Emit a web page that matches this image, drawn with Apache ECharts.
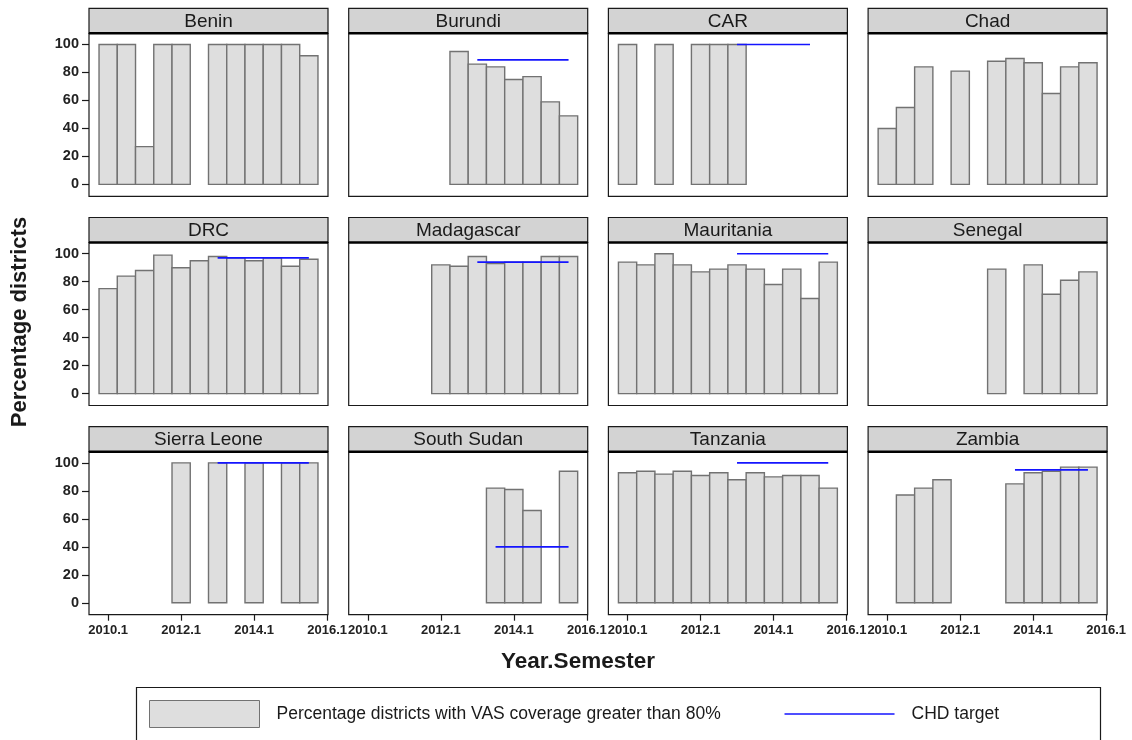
<!DOCTYPE html>
<html>
<head>
<meta charset="utf-8">
<script src="https://cdn.jsdelivr.net/npm/echarts@6/dist/echarts.min.js"></script>
<style>
  html, body { margin: 0; padding: 0; background: #fff; }
  #chart { width: 1132px; height: 740px; }
</style>
</head>
<body>
<div id="chart"></div>
<script>
// Semesters on the x axis and the labelled ticks
const semesters = ['2010.1','2010.2','2011.1','2011.2','2012.1','2012.2','2013.1','2013.2','2014.1','2014.2','2015.1','2015.2'];
const xTickLabels = ['2010.1','2012.1','2014.1','2016.1'];
const yTickValues = [0, 20, 40, 60, 80, 100];
const countries = ['Benin','Burundi','CAR','Chad','DRC','Madagascar','Mauritania','Senegal','Sierra Leone','South Sudan','Tanzania','Zambia'];

// Percentage of districts with VAS coverage > 80%, one value per semester (null = no data)
const benin       = [100, 100, 27, 100, 100, null, 100, 100, 100, 100, 100, 92];
const burundi     = [null, null, null, null, null, 95, 86, 84, 75, 77, 59, 49];
const car         = [100, null, 100, null, 100, 100, 100, null, null, null, null, null];
const chad        = [40, 55, 84, null, 81, null, 88, 90, 87, 65, 84, 87];
const drc         = [75, 84, 88, 99, 90, 95, 98, 97, 95, 97, 91, 96];
const madagascar  = [null, null, null, null, 92, 91, 98, 93, 94, 94, 98, 98];
const mauritania  = [94, 92, 100, 92, 87, 89, 92, 89, 78, 89, 68, 94];
const senegal     = [null, null, null, null, null, null, 89, null, 92, 71, 81, 87];
const sierraLeone = [null, null, null, null, 100, null, 100, null, 100, null, 100, 100];
const southSudan  = [null, null, null, null, null, null, null, 82, 81, 66, null, 94];
const tanzania    = [93, 94, 92, 94, 91, 93, 88, 93, 90, 91, 91, 82];
const zambia      = [null, 77, 82, 88, null, null, null, 85, 93, 94, 97, 97];

// CHD target per country: value and the first/last semester it covers
const targetValue = [null, 89, 100, null, 97, 94, 100, null, 100, 40, 100, 95];
const targetFrom  = [null, '2013.1', '2013.1', null, '2013.1', '2013.1', '2013.1', null, '2013.1', '2013.2', '2013.1', '2013.2'];
const targetTo    = [null, '2015.2', '2015.1', null, '2015.2', '2015.2', '2015.2', null, '2015.2', '2015.2', '2015.2', '2015.2'];

const coverage = [benin, burundi, car, chad, drc, madagascar, mauritania, senegal, sierraLeone, southSudan, tanzania, zambia];

const BAR_NAME = 'Percentage districts with VAS coverage greater than 80%';
const TARGET_NAME = 'CHD target';
const FONT = "'Liberation Sans', Arial, sans-serif";
const BLUE = '#1414ff';

// "2012.1" -> semester index counted from 2010.1
function semIndex(label) {
  const [y, s] = label.split('.').map(Number);
  return (y - 2010) * 2 + (s - 1);
}
const xTickPos = xTickLabels.map(semIndex);

// Facet layout
const L = { left: 89, top: 8.3, colPitch: 259.7, rowPitch: 209.2, width: 239, stripH: 25, plotH: 163 };

const chart = echarts.init(document.getElementById('chart'), null, { renderer: 'canvas' });

const grids = [], xAxes = [], yAxes = [], series = [], graphics = [];

countries.forEach((name, i) => {
  const r = Math.floor(i / 4), c = i % 4;
  const left = L.left + c * L.colPitch;
  const stripTop = L.top + r * L.rowPitch;
  const top = stripTop + L.stripH;
  const bottomRow = r === 2, firstCol = c === 0;

  grids.push({ left, top, width: L.width, height: L.plotH, show: true,
    borderColor: '#1a1a1a', borderWidth: 1.2, backgroundColor: '#fff' });

  xAxes.push({
    type: 'value', gridIndex: i, min: -1.05, max: 12.05, position: 'bottom',
    axisLine: { show: false, onZero: false },
    splitLine: { show: false },
    axisTick: { show: bottomRow, length: 6, lineStyle: { color: '#1a1a1a', width: 1.2 },
      customValues: xTickPos },
    axisLabel: { show: bottomRow, customValues: xTickPos,
      formatter: v => xTickLabels[xTickPos.indexOf(v)] || '',
      fontFamily: FONT, fontSize: 13, fontWeight: 'bold', color: '#222', margin: 9 }
  });

  yAxes.push({
    type: 'value', gridIndex: i, min: -8.5, max: 108, position: 'left',
    axisLine: { show: false, onZero: false },
    splitLine: { show: false },
    axisTick: { show: firstCol, length: 7, lineStyle: { color: '#1a1a1a', width: 1.2 },
      customValues: yTickValues },
    axisLabel: { show: firstCol, customValues: yTickValues,
      fontFamily: FONT, fontSize: 14.5, fontWeight: 'bold', color: '#222', margin: 10 }
  });

  const data = [];
  coverage[i].forEach((v, k) => { if (v != null) data.push([semIndex(semesters[k]), v]); });

  series.push({
    type: 'custom', name: BAR_NAME, xAxisIndex: i, yAxisIndex: i,
    encode: { x: 0, y: 1 },
    data,
    itemStyle: { color: '#dedede', borderColor: '#777', borderWidth: 1 },
    renderItem: (params, api) => {
      const x = api.value(0), v = api.value(1);
      const p0 = api.coord([x - 0.5, 0]);
      const p1 = api.coord([x + 0.5, v]);
      return {
        type: 'rect',
        shape: { x: p0[0], y: p1[1], width: p1[0] - p0[0], height: p0[1] - p1[1] },
        style: { fill: '#dedede', stroke: '#727272', lineWidth: 1.4 }
      };
    },
    z: 2
  });

  if (targetValue[i] != null) {
    series.push({
      type: 'line', name: TARGET_NAME, xAxisIndex: i, yAxisIndex: i,
      data: [[semIndex(targetFrom[i]), targetValue[i]], [semIndex(targetTo[i]), targetValue[i]]],
      symbol: 'none', showSymbol: false,
      lineStyle: { color: BLUE, width: 1.6 },
      itemStyle: { color: BLUE },
      z: 3
    });
  }

  // strip header with country name
  graphics.push({ type: 'rect', shape: { x: left, y: stripTop, width: L.width, height: L.stripH },
    style: { fill: '#d3d3d3', stroke: '#1a1a1a', lineWidth: 1.2 } });
  graphics.push({ type: 'line', shape: { x1: left, y1: top, x2: left + L.width, y2: top },
    style: { stroke: '#000', lineWidth: 2.5 } });
  graphics.push({ type: 'text', x: left + L.width / 2, y: stripTop + L.stripH / 2 + 1,
    style: { text: name, fontFamily: FONT, fontSize: 19, fill: '#1a1a1a', align: 'center', verticalAlign: 'middle' } });
});

// axis titles
graphics.push({ type: 'text', x: 578, y: 662,
  style: { text: 'Year.Semester', fontFamily: FONT, fontSize: 22.5, fontWeight: 'bold', fill: '#1a1a1a', align: 'center', verticalAlign: 'middle' } });
graphics.push({ type: 'text', x: 20, y: 322, rotation: Math.PI / 2,
  style: { text: 'Percentage districts', fontFamily: FONT, fontSize: 22, fontWeight: 'bold', fill: '#1a1a1a', align: 'center', verticalAlign: 'middle' } });
// legend frame
graphics.push({ type: 'rect', shape: { x: 136.5, y: 687.5, width: 964, height: 60 },
  style: { fill: 'none', stroke: '#1a1a1a', lineWidth: 1.2 }, z: -1 });

chart.setOption({
  animation: false,
  backgroundColor: '#fff',
  grid: grids,
  xAxis: xAxes,
  yAxis: yAxes,
  series,
  graphic: { elements: graphics },
  legend: {
    left: 149, top: 700, padding: 0,
    itemWidth: 110, itemHeight: 27, itemGap: 63,
    textStyle: { fontFamily: FONT, fontSize: 17.5, color: '#1a1a1a', padding: [0, 0, 0, 12] },
    data: [
      { name: BAR_NAME, icon: 'rect', itemStyle: { color: '#dedede', borderColor: '#727272', borderWidth: 1 } },
      { name: TARGET_NAME, itemStyle: { opacity: 0 }, lineStyle: { color: BLUE, width: 1.6 } }
    ]
  }
});
</script>
</body>
</html>
